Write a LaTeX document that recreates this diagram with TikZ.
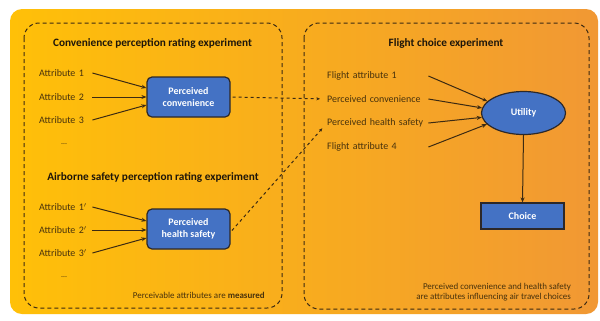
\documentclass[tikz,border=0pt]{standalone}
\usepackage{fontspec}
\setmainfont{Carlito}
\usetikzlibrary{shapes.geometric,arrows.meta,calc}

\definecolor{bgleft}{RGB}{255,192,8}
\definecolor{bgright}{RGB}{241,152,52}
\definecolor{boxblue}{RGB}{68,114,196}
\definecolor{edgedark}{RGB}{45,40,40}
\definecolor{linedark}{RGB}{60,42,18}
\definecolor{txt}{RGB}{72,50,12}
\definecolor{ttl}{RGB}{30,22,10}

\tikzset{
  panel/.style={draw=linedark, line width=1bp, dash pattern=on 4bp off 3bp, rounded corners=15bp},
  headline/.style={font=\fontsize{11.3}{13}\selectfont\bfseries, text=ttl, inner sep=0pt},
  attr/.style={font=\fontsize{10}{12}\selectfont, text=txt, anchor=west, inner xsep=0pt, inner ysep=1bp, align=left},
  leftattr/.style={attr, text width=52bp},
  rightattr/.style={attr, text width=101bp},
  dots/.style={font=\fontsize{8}{10}\selectfont, text=txt, inner sep=0pt},
  note/.style={font=\fontsize{9}{10}\selectfont, text=txt, inner sep=0pt, align=right},
  percbox/.style={draw=edgedark, line width=1.2bp, fill=boxblue, rounded corners=5bp,
    minimum width=83bp, minimum height=40bp, text=white, align=center,
    font=\fontsize{10}{12}\selectfont\bfseries},
  utilnode/.style={ellipse, draw=edgedark, line width=1.2bp, fill=boxblue,
    minimum width=84bp, minimum height=43bp, text=white, font=\fontsize{10}{12}\selectfont\bfseries},
  choicebox/.style={draw=edgedark, line width=1.2bp, fill=boxblue,
    minimum width=83bp, minimum height=26bp, text=white, font=\fontsize{10}{12}\selectfont\bfseries},
  link/.style={draw=linedark, line width=1bp, -{Stealth[length=5bp,width=4bp]}},
  dlink/.style={draw=linedark, line width=1bp, dash pattern=on 3bp off 3bp,
    -{Stealth[length=3.5bp,width=3bp]}, shorten >=7bp, shorten <=2bp},
}

\begin{document}
\begin{tikzpicture}[x=1bp, y=-1bp]
  \useasboundingbox (0,0) rectangle (600,320);
  \fill[white] (0,0) rectangle (600,320);

  % backdrop
  \shade[left color=bgleft, right color=bgright, rounded corners=12bp]
    (10,9) rectangle (598,314);

  % two experiment panels
  \draw[panel] (24,23) rectangle (282,308);
  \draw[panel] (304,23) rectangle (589,309);

  % headings
  \node[headline] (t1) at (152.5,43) {Convenience perception rating experiment};
  \node[headline] (t2) at (153,177) {Airborne safety perception rating experiment};
  \node[headline] (t3) at (446,43) {Flight choice experiment};

  % convenience rating block
  \node[leftattr] (a1) at (39,73) {Attribute 1};
  \node[leftattr] (a2) at (39,97) {Attribute 2};
  \node[leftattr] (a3) at (39,120) {Attribute 3};
  \node[dots] (ad) at (64,144) {\ldots};
  \node[percbox] (pc) at (188.5,97) {Perceived\\convenience};

  \draw[link] ([xshift=1bp]a1.east) -- ([yshift=9bp]pc.west);
  \draw[link] ([xshift=1bp]a2.east) -- (pc.west);
  \draw[link] ([xshift=1bp]a3.east) -- ([yshift=-8bp]pc.west);

  % health safety rating block
  \node[leftattr] (b1) at (39,207) {Attribute 1$'$};
  \node[leftattr] (b2) at (39,230) {Attribute 2$'$};
  \node[leftattr] (b3) at (39,253) {Attribute 3$'$};
  \node[dots] (bd) at (64,277) {\ldots};
  \node[percbox] (hs) at (188.5,229) {Perceived\\health safety};

  \draw[link] ([xshift=1bp]b1.east) -- ([yshift=8bp]hs.west);
  \draw[link] ([xshift=1bp]b2.east) -- ([yshift=-1bp]hs.west);
  \draw[link] ([xshift=1bp]b3.east) -- ([yshift=-9bp]hs.west);

  \node[note, anchor=east] (n1) at (265,295) {Perceivable attributes are \textbf{measured}};

  % flight choice block
  \node[rightattr] (f1) at (327,76) {Flight attribute 1};
  \node[rightattr] (f2) at (327,99) {Perceived convenience};
  \node[rightattr] (f3) at (327,123) {Perceived health safety};
  \node[rightattr] (f4) at (327,147) {Flight attribute 4};

  \node[utilnode] (u) at (523.5,113) {Utility};
  \node[choicebox] (ch) at (522.5,216) {Choice};

  \draw[link] (f1.east) -- (u.162);
  \draw[link] (f2.east) -- (u.173);
  \draw[link] (f3.east) -- (u.186);
  \draw[link] (f4.east) -- (u.197);
  \draw[link] (u.south) -- (ch.north);

  \node[note, anchor=east] (n2) at (571,292.5)
    {Perceived convenience and health safety\\are attributes influencing air travel choices};

  % perceived measures feed the choice model
  \draw[dlink] (pc.east) -- (f2.west);
  \draw[dlink] ([yshift=-3bp]hs.east) -- (f3.west);
\end{tikzpicture}
\end{document}
